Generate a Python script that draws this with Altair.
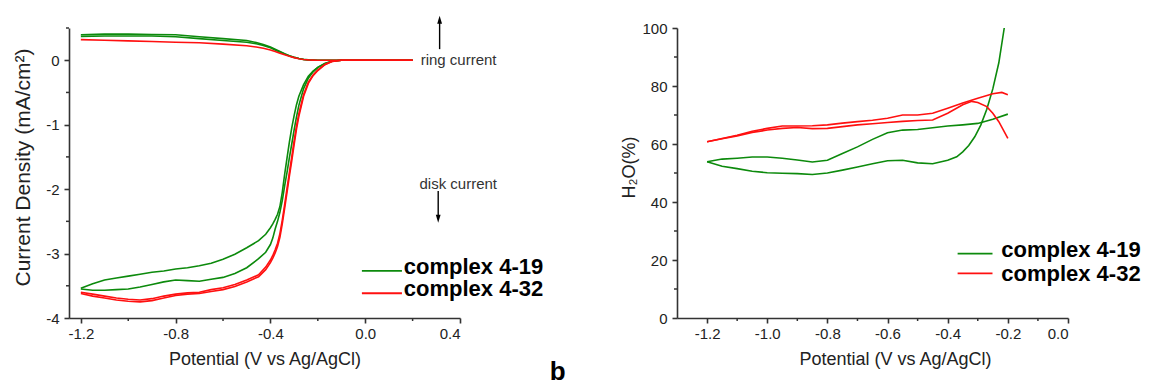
import altair as alt
import pandas as pd

FONT = "Liberation Sans"
GREEN = "#0c8a0c"
RED = "#ff1010"
AXC = "#333333"
TXT = "#222222"

SERIES = ["complex 4-19", "complex 4-32"]

# ---------------- left panel: ring / disk current (mA/cm2) ----------------
RING_X = [-1.2, -1.1, -1.0, -0.9, -0.8, -0.7, -0.6, -0.5, -0.46, -0.43, -0.4, -0.38, -0.36,
          -0.34, -0.32, -0.3, -0.28, -0.26, -0.24, -0.22, -0.2, -0.15, -0.1, 0.0, 0.1, 0.2]
RING_G1 = [0.395, 0.405, 0.405, 0.40, 0.395, 0.365, 0.335, 0.305, 0.275, 0.245, 0.205, 0.17,
           0.135, 0.10, 0.07, 0.046, 0.027, 0.013, 0.005, 0.002, 0.0, 0.0, 0.0, 0.0, 0.0, 0.0]
RING_G2 = [0.37, 0.375, 0.375, 0.375, 0.365, 0.335, 0.305, 0.28, 0.255, 0.23, 0.195, 0.16,
           0.128, 0.095, 0.067, 0.044, 0.026, 0.012, 0.005, 0.002, 0.0, 0.0, 0.0, 0.0, 0.0, 0.0]
RING_R = [0.32, 0.31, 0.30, 0.29, 0.28, 0.27, 0.25, 0.225, 0.205, 0.185, 0.16, 0.135,
          0.11, 0.085, 0.06, 0.04, 0.024, 0.012, 0.005, 0.002, 0.0, 0.0, 0.0, 0.0, 0.0, 0.0]

DISK_X = [-1.2, -1.15, -1.1, -1.05, -1.0, -0.95, -0.9, -0.85, -0.8, -0.75, -0.7, -0.65, -0.6,
          -0.55, -0.5, -0.45, -0.42, -0.4, -0.39, -0.38, -0.37, -0.36, -0.35, -0.34, -0.33,
          -0.32, -0.31, -0.3, -0.29, -0.28, -0.26, -0.24, -0.22, -0.2, -0.17, -0.14, -0.1,
          0.0, 0.1, 0.2]
DISK_G1 = [-3.54, -3.47, -3.41, -3.38, -3.35, -3.32, -3.29, -3.27, -3.24, -3.22, -3.19, -3.15,
           -3.09, -3.01, -2.91, -2.80, -2.70, -2.60, -2.54, -2.47, -2.39, -2.27, -2.05, -1.77,
           -1.52, -1.27, -1.05, -0.86, -0.69, -0.56, -0.38, -0.25, -0.17, -0.11, -0.05,
           -0.015, 0.0, 0.0, 0.0, 0.0]
DISK_G2 = [-3.55, -3.57, -3.57, -3.56, -3.55, -3.52, -3.48, -3.44, -3.41, -3.42, -3.43, -3.40,
           -3.37, -3.31, -3.22, -3.08, -2.98, -2.86, -2.76, -2.62, -2.50, -2.36, -2.18, -1.95,
           -1.74, -1.51, -1.30, -1.08, -0.88, -0.70, -0.44, -0.28, -0.18, -0.11, -0.05,
           -0.015, 0.0, 0.0, 0.0, 0.0]
DISK_R1 = [-3.62, -3.66, -3.69, -3.72, -3.74, -3.75, -3.73, -3.69, -3.65, -3.63, -3.62, -3.59,
           -3.56, -3.51, -3.44, -3.36, -3.25, -3.14, -3.07, -2.99, -2.89, -2.75, -2.54, -2.30,
           -2.05, -1.80, -1.56, -1.31, -1.07, -0.87, -0.56, -0.36, -0.24, -0.16, -0.07,
           -0.02, 0.0, 0.0, 0.0, 0.0]
DISK_R2 = [-3.60, -3.63, -3.66, -3.69, -3.71, -3.72, -3.70, -3.66, -3.63, -3.61, -3.60, -3.56,
           -3.53, -3.48, -3.41, -3.33, -3.21, -3.10, -3.03, -2.94, -2.84, -2.69, -2.48, -2.24,
           -1.99, -1.74, -1.50, -1.25, -1.02, -0.83, -0.53, -0.34, -0.23, -0.15, -0.065,
           -0.018, 0.0, 0.0, 0.0, 0.0]

# ---------------- right panel: H2O (%) ----------------
H2O_G1_X = [-1.2, -1.15, -1.1, -1.05, -1.0, -0.95, -0.9, -0.85, -0.8, -0.75, -0.7, -0.65,
            -0.6, -0.55, -0.5, -0.45, -0.4, -0.35, -0.3, -0.25, -0.2]
H2O_G1 = [53.9, 54.8, 55.1, 55.5, 55.5, 55.1, 54.5, 53.8, 54.4, 56.7, 59.0, 61.6,
          63.9, 64.8, 65.0, 65.6, 66.2, 66.6, 67.1, 68.5, 70.3]
H2O_G2_X = [-1.2, -1.15, -1.1, -1.05, -1.0, -0.95, -0.9, -0.85, -0.8, -0.75, -0.7, -0.65,
            -0.6, -0.55, -0.5, -0.45, -0.4, -0.37, -0.35, -0.33, -0.31, -0.29, -0.27,
            -0.25, -0.23, -0.212]
H2O_G2 = [53.9, 52.3, 51.5, 50.6, 50.1, 49.9, 49.8, 49.5, 50.0, 51.0, 52.1, 53.2,
          54.2, 54.4, 53.5, 53.2, 54.4, 55.6, 57.3, 59.5, 62.5, 66.5, 72.0,
          79.0, 88.0, 100.0]
H2O_R1_X = [-1.2, -1.15, -1.1, -1.05, -1.0, -0.95, -0.9, -0.85, -0.8, -0.75, -0.7, -0.65,
            -0.6, -0.55, -0.5, -0.45, -0.4, -0.35, -0.3, -0.25, -0.22, -0.2]
H2O_R1 = [60.8, 61.9, 63.0, 64.4, 65.4, 66.2, 66.2, 66.3, 66.6, 67.2, 67.7, 68.2,
          68.9, 70.0, 70.0, 70.6, 72.3, 74.1, 75.8, 77.3, 77.8, 77.0]
H2O_R2_X = [-1.2, -1.15, -1.1, -1.05, -1.0, -0.95, -0.9, -0.85, -0.8, -0.75, -0.7, -0.65,
            -0.6, -0.55, -0.5, -0.45, -0.4, -0.35, -0.32, -0.3, -0.27, -0.25, -0.23, -0.2]
H2O_R2 = [60.8, 61.8, 62.8, 64.0, 64.8, 65.4, 65.7, 65.3, 65.4, 66.0, 66.6, 67.0,
          67.4, 67.8, 68.1, 68.3, 70.6, 73.5, 74.7, 74.3, 72.9, 70.6, 67.7, 61.9]

# ---------------- axes ----------------
L_XDOM = [-1.25, 0.4]
L_YDOM = [-4, 0.5]
L_XTICKS = [-1.2, -0.8, -0.4, 0.0, 0.4]
L_XMINOR = [-1.0, -0.6, -0.2, 0.2]
L_YTICKS = [-4, -3, -2, -1, 0]
L_YMINOR = [-3.5, -2.5, -1.5, -0.5, 0.5]
R_XDOM = [-1.3, 0.0]
R_YDOM = [0, 100]
R_XTICKS = [-1.2, -1.0, -0.8, -0.6, -0.4, -0.2, 0.0]
R_XMINOR = [-1.1, -0.9, -0.7, -0.5, -0.3, -0.1]
R_YTICKS = [0, 20, 40, 60, 80, 100]
R_YMINOR = [10, 30, 50, 70, 90]

# ---------------- annotations (data coordinates) ----------------
L_LEG_X = [-0.014, 0.155]
L_LEG_Y = [-3.27, -3.616]
L_LEG_TXT_X = 0.163
L_LEG_TXT_Y = [-3.31, -3.665]
R_LEG_X = [-0.367, -0.251]
R_LEG_Y = [22.2, 15.4]
R_LEG_TXT_X = -0.222
R_LEG_TXT_Y = [21.0, 12.9]
ANNOT_TXT = ["ring current", "disk current"]
ANNOT_X = [0.234, 0.229]
ANNOT_Y = [0.0, -1.915]
ARROW_X = [0.314, 0.308]
ARROW_FROM = [0.172, -2.028]
ARROW_HEAD = [0.627, -2.458]
PANEL_LABEL = "b"
PANEL_LABEL_POS = [0.812, -4.962]

W, H = 391, 290


def fmt_expr(spec):
    return "replace(format(datum.value, '%s'), '\u2212', '-')" % spec


def xenc(dom, ticks, title, title_x=None):
    kw = dict(values=ticks, title=title, labelExpr=fmt_expr(".1f"), tickSize=5,
              labelPadding=3, titlePadding=9, grid=False)
    if title_x is not None:
        kw["titleX"] = title_x
    return alt.X("x:Q", scale=alt.Scale(domain=dom, nice=False, zero=False), axis=alt.Axis(**kw))


def yenc(dom, ticks, title, title_y, title_pad, title_size):
    return alt.Y("y:Q", scale=alt.Scale(domain=dom, nice=False, zero=False),
                 axis=alt.Axis(values=ticks, title=title, labelExpr=fmt_expr("d"), tickSize=5,
                               labelPadding=5, titlePadding=title_pad, titleY=title_y,
                               titleFontSize=title_size, grid=False))


def curve(xs, ys, trace):
    return pd.DataFrame({"x": xs, "y": ys, "trace": trace, "i": list(range(len(xs)))})


def curves_layer(frames, color, XE, YE):
    df = pd.concat(frames, ignore_index=True)
    return alt.Chart(df).mark_line(color=color, strokeWidth=1.6, clip=False).encode(
        x=XE, y=YE, detail="trace:N", order="i:Q")


def minor_layers(xminor, yminor, XE, YE):
    mx = alt.Chart(pd.DataFrame({"x": xminor})).mark_rule(color=AXC, strokeWidth=1.5).encode(
        x=XE, y=alt.value(H), y2=alt.value(H + 3))
    my = alt.Chart(pd.DataFrame({"y": yminor})).mark_rule(color=AXC, strokeWidth=1.5).encode(
        y=YE, x=alt.value(-3), x2=alt.value(0))
    return [mx, my]


def legend_layers(lx, ly, tx, ty, XE, YE):
    ldf = pd.DataFrame({"x": [lx[0]] * 2, "x2": [lx[1]] * 2, "y": ly, "s": SERIES})
    lines = alt.Chart(ldf).mark_rule(strokeWidth=1.8).encode(
        x=XE, x2="x2:Q", y=YE,
        color=alt.Color("s:N", scale=alt.Scale(domain=SERIES, range=[GREEN, RED]), legend=None))
    tdf = pd.DataFrame({"x": [tx] * 2, "y": ty, "t": SERIES})
    texts = alt.Chart(tdf).mark_text(align="left", baseline="alphabetic", font=FONT, fontSize=22,
                                     fontWeight="bold", color="black").encode(x=XE, y=YE, text="t:N")
    return [lines, texts]


# ---------------- left chart ----------------
XL = xenc(L_XDOM, L_XTICKS, "Potential (V vs Ag/AgCl)")
YL = yenc(L_YDOM, L_YTICKS, "Current Density  (mA/cm\u00b2)", 139, 12, 21)

left_green = curves_layer([curve(RING_X, RING_G1, "rg1"), curve(RING_X, RING_G2, "rg2"),
                           curve(DISK_X, DISK_G1, "dg1"), curve(DISK_X, DISK_G2, "dg2")],
                          GREEN, XL, YL)
left_red = curves_layer([curve(RING_X, RING_R, "rr"), curve(DISK_X, DISK_R1, "dr1"),
                         curve(DISK_X, DISK_R2, "dr2")], RED, XL, YL)

annot = alt.Chart(pd.DataFrame({"x": ANNOT_X, "y": ANNOT_Y, "t": ANNOT_TXT})).mark_text(
    align="left", baseline="middle", font=FONT, fontSize=15, color="#333333").encode(
    x=XL, y=YL, text="t:N")
arrow_df = pd.DataFrame({"x": ARROW_X, "y": ARROW_FROM, "y2": ARROW_HEAD})
arrow_shafts = alt.Chart(arrow_df).mark_rule(color="black", strokeWidth=1.4).encode(
    x=XL, y=YL, y2="y2:Q")
head_up = alt.Chart(pd.DataFrame({"x": [ARROW_X[0]], "y": [ARROW_HEAD[0]]})).mark_point(
    shape="M0,-1L0.6,1L-0.6,1Z", filled=True, size=64, color="black", opacity=1).encode(x=XL, y=YL)
head_down = alt.Chart(pd.DataFrame({"x": [ARROW_X[1]], "y": [ARROW_HEAD[1]]})).mark_point(
    shape="M0,1L0.6,-1L-0.6,-1Z", filled=True, size=64, color="black", opacity=1).encode(x=XL, y=YL)
panel_lbl = alt.Chart(pd.DataFrame({"x": [PANEL_LABEL_POS[0]], "y": [PANEL_LABEL_POS[1]],
                                    "t": [PANEL_LABEL]})).mark_text(
    align="center", baseline="alphabetic", font=FONT, fontSize=26, fontWeight="bold",
    color="black").encode(x=XL, y=YL, text="t:N")

left = alt.layer(
    left_green, left_red,
    *minor_layers(L_XMINOR, L_YMINOR, XL, YL),
    *legend_layers(L_LEG_X, L_LEG_Y, L_LEG_TXT_X, L_LEG_TXT_Y, XL, YL),
    annot, arrow_shafts, head_up, head_down, panel_lbl,
).properties(width=W, height=H)

# ---------------- right chart ----------------
XR = xenc(R_XDOM, R_XTICKS, "Potential (V vs Ag/AgCl)", title_x=218)
YR = yenc(R_YDOM, R_YTICKS, "H\u2082O(%)", 139, 3, 18)

right_green = curves_layer([curve(H2O_G1_X, H2O_G1, "g1"), curve(H2O_G2_X, H2O_G2, "g2")],
                           GREEN, XR, YR)
right_red = curves_layer([curve(H2O_R1_X, H2O_R1, "r1"), curve(H2O_R2_X, H2O_R2, "r2")],
                         RED, XR, YR)

right = alt.layer(
    right_green, right_red,
    *minor_layers(R_XMINOR, R_YMINOR, XR, YR),
    *legend_layers(R_LEG_X, R_LEG_Y, R_LEG_TXT_X, R_LEG_TXT_Y, XR, YR),
).properties(width=W, height=H)

chart = alt.hconcat(left, right, spacing=217, bounds="flush").properties(
    padding={"left": 4, "top": 7, "right": 5, "bottom": 0}
).configure_view(stroke=None).configure_axis(
    labelFont=FONT, titleFont=FONT, labelFontSize=15, titleFontSize=18,
    titleFontWeight="normal", labelColor=TXT, titleColor=TXT,
    domainColor=AXC, tickColor=AXC, domainWidth=1.6, tickWidth=1.6,
)

chart.save("out.html", embed_options={"renderer": "svg", "actions": False})
